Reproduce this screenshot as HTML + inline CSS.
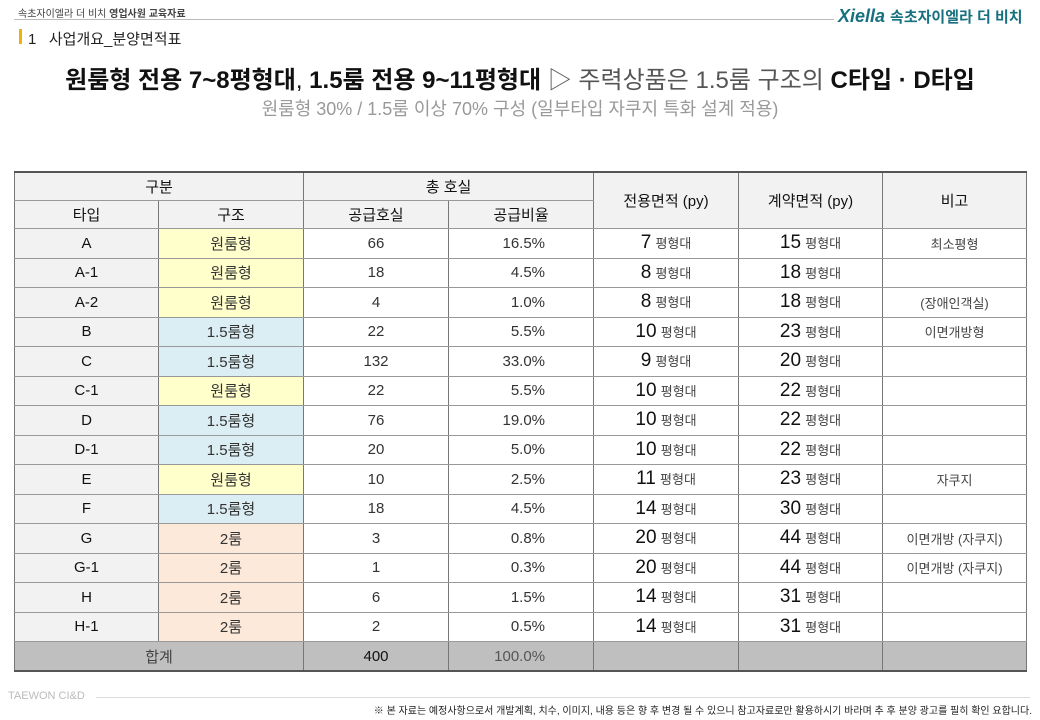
<!DOCTYPE html>
<html><head><meta charset="utf-8"><style>
body{margin:0;width:1040px;height:720px;background:#fff;position:relative;overflow:hidden;font-family:"Liberation Sans","Noto Sans CJK KR",sans-serif;color:#111}
.a{position:absolute;white-space:nowrap}
table{position:absolute;left:14px;top:171px;border-collapse:collapse;table-layout:fixed;width:1012px}
td{border:1px solid #999;border-left:1px solid #777;border-right:1px solid #777;height:28.5px;padding:0;text-align:center;font-size:15px;color:#333}
tr.h td{background:#f2f2f2;color:#111;font-size:15px;height:27px}
td.t{background:#f2f2f2;color:#111}
.y{background:#ffffcc}.b{background:#daeef3}.p{background:#fde9d9}
.n{font-size:19px;color:#111}.s{font-size:13px;color:#444}
.r{text-align:right;padding-right:48px}
tr.tot td{background:#bfbfbf;border-bottom:2px solid #555;height:28px}
</style></head><body>
<div class="a" style="left:18px;top:5px;font-size:10px;color:#444">속초자이엘라 더 비치 <b>영업사원 교육자료</b></div>
<div class="a" style="left:14px;top:19px;width:820px;height:1px;background:#bbb"></div>
<div class="a" style="left:838px;top:6px;font-size:18px;font-weight:bold;color:#17707f;font-style:italic">Xiella <span style="font-size:15px;font-style:normal">속초자이엘라 더 비치</span></div>
<div class="a" style="left:19px;top:29px;width:3px;height:15px;background:#f0b400"></div>
<div class="a" style="left:28px;top:28px;font-size:15px;color:#222">1&nbsp;&nbsp; 사업개요_분양면적표</div>
<div class="a" style="left:0;width:1040px;text-align:center;top:60px;font-size:24px;color:#111"><b>원룸형 전용 7~8평형대</b>, <b>1.5룸 전용 9~11평형대</b> <span style="color:#555">▷ 주력상품은 1.5룸 구조의</span> <b>C타입 · D타입</b></div>
<div class="a" style="left:0;width:1040px;text-align:center;top:95px;font-size:18px;color:#999">원룸형 30% / 1.5룸 이상 70% 구성 (일부타입 자쿠지 특화 설계 적용)</div>
<table>
<colgroup><col style="width:144px"><col style="width:145px"><col style="width:145px"><col style="width:145px"><col style="width:145px"><col style="width:144px"><col style="width:144px"></colgroup>
<tr class="h" style="border-top:2px solid #555"><td colspan="2">구분</td><td colspan="2">총 호실</td><td rowspan="2">전용면적 (py)</td><td rowspan="2">계약면적 (py)</td><td rowspan="2">비고</td></tr>
<tr class="h"><td>타입</td><td>구조</td><td>공급호실</td><td>공급비율</td></tr>
<tr><td class="t">A</td><td class="y">원룸형</td><td>66</td><td class="r">16.5%</td><td><span class="n">7</span> <span class="s">평형대</span></td><td><span class="n">15</span> <span class="s">평형대</span></td><td class="s">최소평형</td></tr>
<tr><td class="t">A-1</td><td class="y">원룸형</td><td>18</td><td class="r">4.5%</td><td><span class="n">8</span> <span class="s">평형대</span></td><td><span class="n">18</span> <span class="s">평형대</span></td><td></td></tr>
<tr><td class="t">A-2</td><td class="y">원룸형</td><td>4</td><td class="r">1.0%</td><td><span class="n">8</span> <span class="s">평형대</span></td><td><span class="n">18</span> <span class="s">평형대</span></td><td class="s">(장애인객실)</td></tr>
<tr><td class="t">B</td><td class="b">1.5룸형</td><td>22</td><td class="r">5.5%</td><td><span class="n">10</span> <span class="s">평형대</span></td><td><span class="n">23</span> <span class="s">평형대</span></td><td class="s">이면개방형</td></tr>
<tr><td class="t">C</td><td class="b">1.5룸형</td><td>132</td><td class="r">33.0%</td><td><span class="n">9</span> <span class="s">평형대</span></td><td><span class="n">20</span> <span class="s">평형대</span></td><td></td></tr>
<tr><td class="t">C-1</td><td class="y">원룸형</td><td>22</td><td class="r">5.5%</td><td><span class="n">10</span> <span class="s">평형대</span></td><td><span class="n">22</span> <span class="s">평형대</span></td><td></td></tr>
<tr><td class="t">D</td><td class="b">1.5룸형</td><td>76</td><td class="r">19.0%</td><td><span class="n">10</span> <span class="s">평형대</span></td><td><span class="n">22</span> <span class="s">평형대</span></td><td></td></tr>
<tr><td class="t">D-1</td><td class="b">1.5룸형</td><td>20</td><td class="r">5.0%</td><td><span class="n">10</span> <span class="s">평형대</span></td><td><span class="n">22</span> <span class="s">평형대</span></td><td></td></tr>
<tr><td class="t">E</td><td class="y">원룸형</td><td>10</td><td class="r">2.5%</td><td><span class="n">11</span> <span class="s">평형대</span></td><td><span class="n">23</span> <span class="s">평형대</span></td><td class="s">자쿠지</td></tr>
<tr><td class="t">F</td><td class="b">1.5룸형</td><td>18</td><td class="r">4.5%</td><td><span class="n">14</span> <span class="s">평형대</span></td><td><span class="n">30</span> <span class="s">평형대</span></td><td></td></tr>
<tr><td class="t">G</td><td class="p">2룸</td><td>3</td><td class="r">0.8%</td><td><span class="n">20</span> <span class="s">평형대</span></td><td><span class="n">44</span> <span class="s">평형대</span></td><td class="s">이면개방 (자쿠지)</td></tr>
<tr><td class="t">G-1</td><td class="p">2룸</td><td>1</td><td class="r">0.3%</td><td><span class="n">20</span> <span class="s">평형대</span></td><td><span class="n">44</span> <span class="s">평형대</span></td><td class="s">이면개방 (자쿠지)</td></tr>
<tr><td class="t">H</td><td class="p">2룸</td><td>6</td><td class="r">1.5%</td><td><span class="n">14</span> <span class="s">평형대</span></td><td><span class="n">31</span> <span class="s">평형대</span></td><td></td></tr>
<tr><td class="t">H-1</td><td class="p">2룸</td><td>2</td><td class="r">0.5%</td><td><span class="n">14</span> <span class="s">평형대</span></td><td><span class="n">31</span> <span class="s">평형대</span></td><td></td></tr>
<tr class="tot"><td colspan="2" style="color:#444">합계</td><td style="color:#111">400</td><td class="r" style="color:#555">100.0%</td><td></td><td></td><td></td></tr>
</table>
<div class="a" style="left:8px;top:690px;font-size:11px;color:#bbb">TAEWON CI&amp;D</div>
<div class="a" style="left:96px;top:697px;width:934px;height:1px;background:#ddd"></div>
<div class="a" style="right:8px;top:702px;font-size:10px;color:#222">※ 본 자료는 예정사항으로서 개발계획, 치수, 이미지, 내용 등은 향 후 변경 될 수 있으니 참고자료로만 활용하시기 바라며 추 후 분양 광고를 필히 확인 요합니다.</div>
</body></html>
